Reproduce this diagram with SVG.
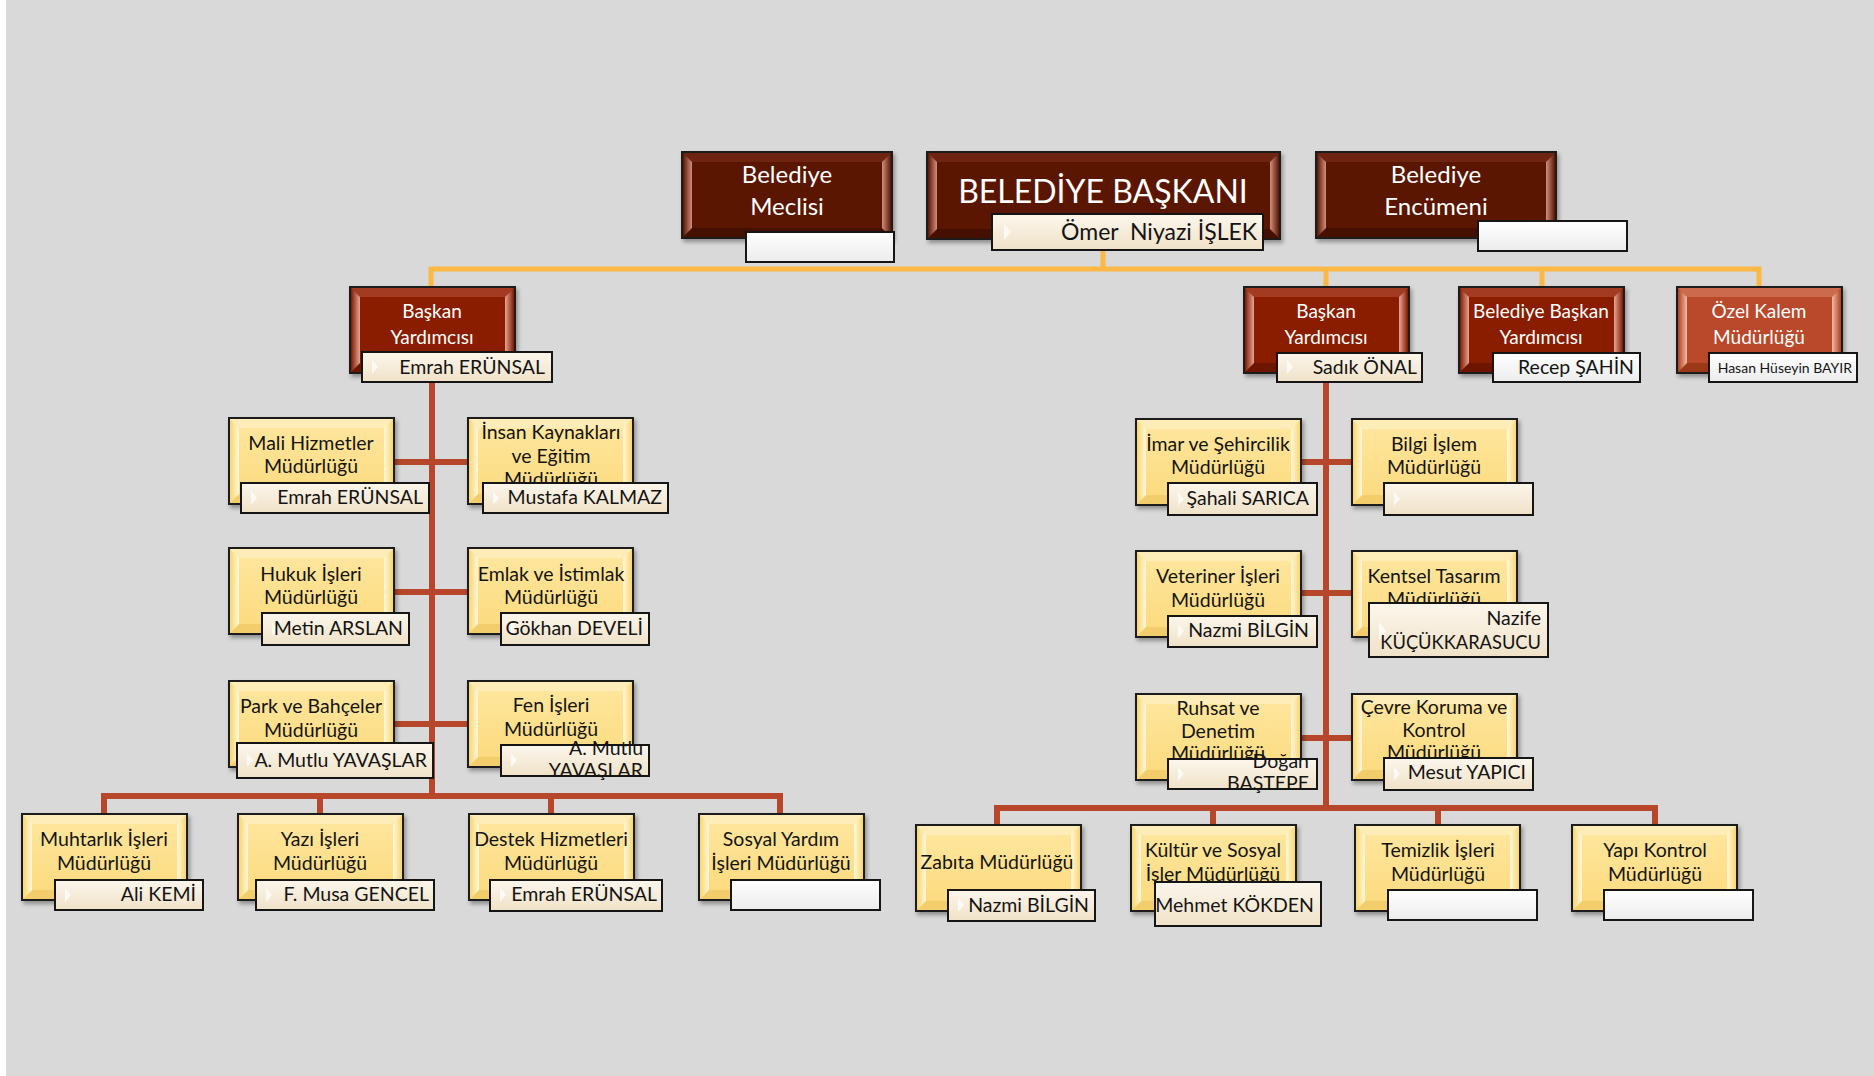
<svg xmlns="http://www.w3.org/2000/svg" width="1874" height="1076" viewBox="0 0 1874 1076">
<defs>
<style>
text{font-family:Lato,"Open Sans","Liberation Sans",sans-serif}
.bt{font-size:19.5px;fill:#141414;text-anchor:middle}
.wt{font-size:19px;fill:#fff;text-anchor:middle}
.wtl{font-size:24px;fill:#fff;text-anchor:middle}
.nm{font-size:19.5px;fill:#141414;text-anchor:end}
.lc{fill:url(#gLc);stroke:#151515;stroke-width:2}
.lw{fill:url(#gLw);stroke:#151515;stroke-width:2}
.arr{fill:#fff;opacity:.75}
.org{stroke:#fbb844;stroke-width:5;fill:none}
.rst{stroke:#b6472a;stroke-width:6;fill:none}
.edge{stroke:#1a1a1a;stroke-width:2}
</style>
<filter id="sh" x="-10%" y="-10%" width="125%" height="135%"><feDropShadow dx="2" dy="3" stdDeviation="2" flood-color="#000" flood-opacity="0.35"/></filter>
<linearGradient id="gLc" x1="0" y1="0" x2="0" y2="1"><stop offset="0" stop-color="#fcf6ec"/><stop offset="1" stop-color="#f0e2c8"/></linearGradient>
<linearGradient id="gLw" x1="0" y1="0" x2="0" y2="1"><stop offset="0" stop-color="#ffffff"/><stop offset="1" stop-color="#ececec"/></linearGradient>
<linearGradient id="gYl" x1="0" y1="0" x2="1" y2="0"><stop offset="0" stop-color="#f8d56e"/><stop offset="1" stop-color="#fff8dc"/></linearGradient>
<linearGradient id="gYr" x1="1" y1="0" x2="0" y2="0"><stop offset="0" stop-color="#f8d56e"/><stop offset="1" stop-color="#fff8dc"/></linearGradient>
<linearGradient id="gY" x1="0" y1="0" x2="0" y2="1"><stop offset="0" stop-color="#fee7a0"/><stop offset="1" stop-color="#fcda7c"/></linearGradient>
<linearGradient id="gMl" x1="0" y1="0" x2="1" y2="0"><stop offset="0" stop-color="#5a1400"/><stop offset="1" stop-color="#d08f80"/></linearGradient>
<linearGradient id="gMr" x1="1" y1="0" x2="0" y2="0"><stop offset="0" stop-color="#5a1400"/><stop offset="1" stop-color="#d08f80"/></linearGradient>
<linearGradient id="gRl" x1="0" y1="0" x2="1" y2="0"><stop offset="0" stop-color="#7e1a00"/><stop offset="1" stop-color="#e7a594"/></linearGradient>
<linearGradient id="gRr" x1="1" y1="0" x2="0" y2="0"><stop offset="0" stop-color="#7e1a00"/><stop offset="1" stop-color="#e7a594"/></linearGradient>
<linearGradient id="gOl" x1="0" y1="0" x2="1" y2="0"><stop offset="0" stop-color="#ad4020"/><stop offset="1" stop-color="#f4baa8"/></linearGradient>
<linearGradient id="gOr" x1="1" y1="0" x2="0" y2="0"><stop offset="0" stop-color="#ad4020"/><stop offset="1" stop-color="#f4baa8"/></linearGradient>
<g id="yb">
<rect width="165" height="86" fill="url(#gY)" class="edge" filter="url(#sh)"/>
<path d="M1 1 h163 l-9 9 h-145z" fill="#feedb8"/>
<path d="M1 85 h163 l-9 -9 h-145z" fill="#f3cd6c"/>
<path d="M1 1 l9 9 v66 l-9 9z" fill="url(#gYl)"/>
<path d="M164 1 l-9 9 v66 l9 9z" fill="url(#gYr)"/>
</g>
<g id="rb">
<rect width="165" height="86" fill="#8a1c02" class="edge" filter="url(#sh)"/>
<path d="M1 1 h163 l-9 9 h-145z" fill="#a33a22"/>
<path d="M1 85 h163 l-9 -9 h-145z" fill="#6e1500"/>
<path d="M1 1 l9 9 v66 l-9 9z" fill="url(#gRl)"/>
<path d="M164 1 l-9 9 v66 l9 9z" fill="url(#gRr)"/>
</g>
<g id="ob">
<rect width="165" height="86" fill="#b9492a" class="edge" filter="url(#sh)"/>
<path d="M1 1 h163 l-9 9 h-145z" fill="#cc6a4e"/>
<path d="M1 85 h163 l-9 -9 h-145z" fill="#9a3818"/>
<path d="M1 1 l9 9 v66 l-9 9z" fill="url(#gOl)"/>
<path d="M164 1 l-9 9 v66 l9 9z" fill="url(#gOr)"/>
</g>
</defs>

<rect width="1874" height="1076" fill="#d9d9d9"/>
<rect width="6" height="1076" fill="#ffffff"/>

<g id="connectors">
<path class="org" d="M1103 250 V269"/>
<path class="org" d="M431 287 V269 H1759 V287"/>
<path class="org" d="M1326 269 V287 M1542 269 V287"/>
<path class="rst" d="M432 382 V796"/>
<path class="rst" d="M393 462 H468 M393 592 H468 M393 724 H468"/>
<path class="rst" d="M104 814 V796 H780 V814 M320 796 V814 M551 796 V814"/>
<path class="rst" d="M1326 382 V808"/>
<path class="rst" d="M1300 462 H1352 M1300 593 H1352 M1300 738 H1352"/>
<path class="rst" d="M997 825 V808 H1655 V825 M1213 808 V825 M1438 808 V825"/>
</g>

<g id="meclis">
<g transform="translate(682,152)">
<rect width="210" height="86" fill="#5a1400" class="edge" filter="url(#sh)"/>
<path d="M1 1 h208 l-9 9 h-190z" fill="#6e2410"/>
<path d="M1 85 h208 l-9 -9 h-190z" fill="#461000"/>
<path d="M1 1 l9 9 v66 l-9 9z" fill="url(#gMl)"/>
<path d="M209 1 l-9 9 v66 l9 9z" fill="url(#gMr)"/>
</g>
<text class="wtl" x="787" y="183">Belediye</text>
<text class="wtl" x="787" y="215">Meclisi</text>
<rect class="lw" x="746" y="232" width="148" height="30"/>
</g>

<g id="baskan">
<g transform="translate(927,152)">
<rect width="353" height="87" fill="#5a1400" class="edge" filter="url(#sh)"/>
<path d="M1 1 h351 l-9 9 h-333z" fill="#6e2410"/>
<path d="M1 86 h351 l-9 -9 h-333z" fill="#461000"/>
<path d="M1 1 l9 9 v67 l-9 9z" fill="url(#gMl)"/>
<path d="M352 1 l-9 9 v67 l9 9z" fill="url(#gMr)"/>
</g>
<text x="1103" y="203" style="font-size:32px;fill:#fff;text-anchor:middle">BELEDİYE BAŞKANI</text>
<rect class="lc" x="992" y="214" width="271" height="36"/>
<path class="arr" d="M1004 224 l7 8 l-7 8z"/>
<text x="1257" y="240" xml:space="preserve" style="font-size:23px;fill:#141414;text-anchor:end">Ömer  Niyazi İŞLEK</text>
</g>

<g id="encumen">
<g transform="translate(1316,152)">
<rect width="240" height="86" fill="#5a1400" class="edge" filter="url(#sh)"/>
<path d="M1 1 h238 l-9 9 h-220z" fill="#6e2410"/>
<path d="M1 85 h238 l-9 -9 h-220z" fill="#461000"/>
<path d="M1 1 l9 9 v66 l-9 9z" fill="url(#gMl)"/>
<path d="M239 1 l-9 9 v66 l9 9z" fill="url(#gMr)"/>
</g>
<text class="wtl" x="1436" y="183">Belediye</text>
<text class="wtl" x="1436" y="215">Encümeni</text>
<rect class="lw" x="1478" y="221" width="149" height="30"/>
</g>

<g id="by-left">
<use href="#rb" x="350" y="287"/>
<text class="wt" x="432" y="318">Başkan</text>
<text class="wt" x="432" y="344">Yardımcısı</text>
<rect class="lc" x="362" y="352" width="190" height="30"/>
<path class="arr" d="M372 360 l6 7 l-6 7z"/>
<text class="nm" x="545" y="374">Emrah ERÜNSAL</text>
</g>

<g id="by-right">
<use href="#rb" x="1244" y="287"/>
<text class="wt" x="1326" y="318">Başkan</text>
<text class="wt" x="1326" y="344">Yardımcısı</text>
<rect class="lc" x="1277" y="353" width="145" height="29"/>
<path class="arr" d="M1287 360 l6 7 l-6 7z"/>
<text class="nm" x="1417" y="374">Sadık ÖNAL</text>
</g>

<g id="bby">
<use href="#rb" x="1459" y="287"/>
<text class="wt" x="1541" y="318">Belediye Başkan</text>
<text class="wt" x="1541" y="344">Yardımcısı</text>
<rect class="lw" x="1493" y="353" width="147" height="29"/>
<text class="nm" x="1634" y="374">Recep ŞAHİN</text>
</g>

<g id="ozel-kalem">
<use href="#ob" x="1677" y="287"/>
<text class="wt" x="1759" y="318">Özel Kalem</text>
<text class="wt" x="1759" y="344">Müdürlüğü</text>
<rect class="lw" x="1709" y="353" width="148" height="29"/>
<text x="1852" y="373" style="font-size:14px;fill:#141414;text-anchor:end">Hasan Hüseyin BAYIR</text>
</g>

<g id="mali">
<use href="#yb" x="229" y="418"/>
<text class="bt" x="311" y="450">Mali Hizmetler</text>
<text class="bt" x="311" y="473">Müdürlüğü</text>
<rect class="lc" x="241" y="483" width="188" height="30"/>
<path class="arr" d="M251 491 l6 7 l-6 7z"/>
<text class="nm" x="423" y="504">Emrah ERÜNSAL</text>
</g>

<g id="insan">
<use href="#yb" x="468" y="418"/>
<text class="bt" x="551" y="439">İnsan Kaynakları</text>
<text class="bt" x="551" y="463">ve Eğitim</text>
<text class="bt" x="551" y="486">Müdürlüğü</text>
<rect class="lc" x="483" y="483" width="185" height="30"/>
<path class="arr" d="M493 491 l6 7 l-6 7z"/>
<text class="nm" x="662" y="504">Mustafa KALMAZ</text>
</g>

<g id="hukuk">
<use href="#yb" x="229" y="548"/>
<text class="bt" x="311" y="581">Hukuk İşleri</text>
<text class="bt" x="311" y="604">Müdürlüğü</text>
<rect class="lc" x="262" y="613" width="147" height="32"/>
<path class="arr" d="M272 622 l6 7 l-6 7z"/>
<text class="nm" x="403" y="635">Metin ARSLAN</text>
</g>

<g id="emlak">
<use href="#yb" x="468" y="548"/>
<text class="bt" x="551" y="581">Emlak ve İstimlak</text>
<text class="bt" x="551" y="604">Müdürlüğü</text>
<rect class="lc" x="501" y="613" width="148" height="32"/>
<path class="arr" d="M511 622 l6 7 l-6 7z"/>
<text class="nm" x="643" y="635">Gökhan DEVELİ</text>
</g>

<g id="park">
<use href="#yb" x="229" y="681"/>
<text class="bt" x="311" y="713">Park ve Bahçeler</text>
<text class="bt" x="311" y="737">Müdürlüğü</text>
<rect class="lc" x="237" y="743" width="196" height="35"/>
<path class="arr" d="M247 753 l6 7 l-6 7z"/>
<text class="nm" x="427" y="767">A. Mutlu YAVAŞLAR</text>
</g>

<g id="fen">
<use href="#yb" x="468" y="681"/>
<text class="bt" x="551" y="712">Fen İşleri</text>
<text class="bt" x="551" y="736">Müdürlüğü</text>
<rect class="lc" x="501" y="745" width="148" height="31"/>
<path class="arr" d="M511 753 l6 7 l-6 7z"/>
<text class="nm" x="643" y="755">A. Mutlu</text>
<text class="nm" x="643" y="777">YAVAŞLAR</text>
</g>

<g id="imar">
<use href="#yb" x="1136" y="419"/>
<text class="bt" x="1218" y="451">İmar ve Şehircilik</text>
<text class="bt" x="1218" y="474">Müdürlüğü</text>
<rect class="lc" x="1168" y="483" width="149" height="32"/>
<path class="arr" d="M1178 492 l6 7 l-6 7z"/>
<text class="nm" x="1309" y="505">Şahali SARICA</text>
</g>

<g id="bilgi">
<use href="#yb" x="1352" y="419"/>
<text class="bt" x="1434" y="451">Bilgi İşlem</text>
<text class="bt" x="1434" y="474">Müdürlüğü</text>
<rect class="lc" x="1384" y="483" width="149" height="32"/>
<path class="arr" d="M1394 492 l6 7 l-6 7z"/>
</g>

<g id="veteriner">
<use href="#yb" x="1136" y="551"/>
<text class="bt" x="1218" y="583">Veteriner İşleri</text>
<text class="bt" x="1218" y="607">Müdürlüğü</text>
<rect class="lc" x="1168" y="616" width="149" height="31"/>
<path class="arr" d="M1178 624 l6 7 l-6 7z"/>
<text class="nm" x="1309" y="637">Nazmi BİLGİN</text>
</g>

<g id="kentsel">
<use href="#yb" x="1352" y="551"/>
<text class="bt" x="1434" y="583">Kentsel Tasarım</text>
<text class="bt" x="1434" y="606">Müdürlüğü</text>
<rect class="lc" x="1369" y="603" width="179" height="54"/>
<path class="arr" d="M1379 622 l7 9 l-7 9z"/>
<text class="nm" x="1541" y="625">Nazife</text>
<text class="nm" x="1541" y="649" style="font-size:18.3px">KÜÇÜKKARASUCU</text>
</g>

<g id="ruhsat">
<use href="#yb" x="1136" y="694"/>
<text class="bt" x="1218" y="715">Ruhsat ve</text>
<text class="bt" x="1218" y="738">Denetim</text>
<text class="bt" x="1218" y="760">Müdürlüğü</text>
<rect class="lc" x="1168" y="759" width="149" height="30"/>
<path class="arr" d="M1178 767 l6 7 l-6 7z"/>
<text class="nm" x="1309" y="768">Doğan</text>
<text class="nm" x="1309" y="790">BAŞTEPE</text>
</g>

<g id="cevre">
<use href="#yb" x="1352" y="694"/>
<text class="bt" x="1434" y="714">Çevre Koruma ve</text>
<text class="bt" x="1434" y="737">Kontrol</text>
<text class="bt" x="1434" y="759">Müdürlüğü</text>
<rect class="lc" x="1384" y="758" width="149" height="32"/>
<path class="arr" d="M1394 767 l6 7 l-6 7z"/>
<text class="nm" x="1526" y="779">Mesut YAPICI</text>
</g>

<g id="muhtarlik">
<use href="#yb" x="22" y="814"/>
<text class="bt" x="104" y="846">Muhtarlık İşleri</text>
<text class="bt" x="104" y="870">Müdürlüğü</text>
<rect class="lc" x="55" y="880" width="148" height="30"/>
<path class="arr" d="M65 888 l6 7 l-6 7z"/>
<text class="nm" x="196" y="901">Ali KEMİ</text>
</g>

<g id="yazi">
<use href="#yb" x="238" y="814"/>
<text class="bt" x="320" y="846">Yazı İşleri</text>
<text class="bt" x="320" y="870">Müdürlüğü</text>
<rect class="lc" x="256" y="880" width="178" height="30"/>
<path class="arr" d="M266 888 l6 7 l-6 7z"/>
<text class="nm" x="429" y="901">F. Musa GENCEL</text>
</g>

<g id="destek">
<use href="#yb" x="469" y="814"/>
<text class="bt" x="551" y="846">Destek Hizmetleri</text>
<text class="bt" x="551" y="870">Müdürlüğü</text>
<rect class="lc" x="490" y="880" width="172" height="31"/>
<path class="arr" d="M500 888 l6 7 l-6 7z"/>
<text class="nm" x="657" y="901">Emrah ERÜNSAL</text>
</g>

<g id="sosyal">
<use href="#yb" x="699" y="814"/>
<text class="bt" x="781" y="846">Sosyal Yardım</text>
<text class="bt" x="781" y="870">İşleri Müdürlüğü</text>
<rect class="lw" x="731" y="880" width="149" height="30"/>
</g>

<g id="zabita">
<use href="#yb" x="916" y="825"/>
<text class="bt" x="997" y="869">Zabıta Müdürlüğü</text>
<rect class="lc" x="948" y="890" width="147" height="31"/>
<path class="arr" d="M958 898 l6 7 l-6 7z"/>
<text class="nm" x="1089" y="912">Nazmi BİLGİN</text>
</g>

<g id="kultur">
<use href="#yb" x="1131" y="825"/>
<text class="bt" x="1213" y="857">Kültür ve Sosyal</text>
<text class="bt" x="1213" y="881">İşler Müdürlüğü</text>
<rect class="lc" x="1155" y="882" width="166" height="44"/>
<text class="nm" x="1314" y="912">Mehmet KÖKDEN</text>
</g>

<g id="temizlik">
<use href="#yb" x="1355" y="825"/>
<text class="bt" x="1438" y="857">Temizlik İşleri</text>
<text class="bt" x="1438" y="881">Müdürlüğü</text>
<rect class="lw" x="1388" y="890" width="149" height="30"/>
</g>

<g id="yapi-kontrol">
<use href="#yb" x="1572" y="825"/>
<text class="bt" x="1655" y="857">Yapı Kontrol</text>
<text class="bt" x="1655" y="881">Müdürlüğü</text>
<rect class="lw" x="1604" y="890" width="149" height="30"/>
</g>
</svg>
